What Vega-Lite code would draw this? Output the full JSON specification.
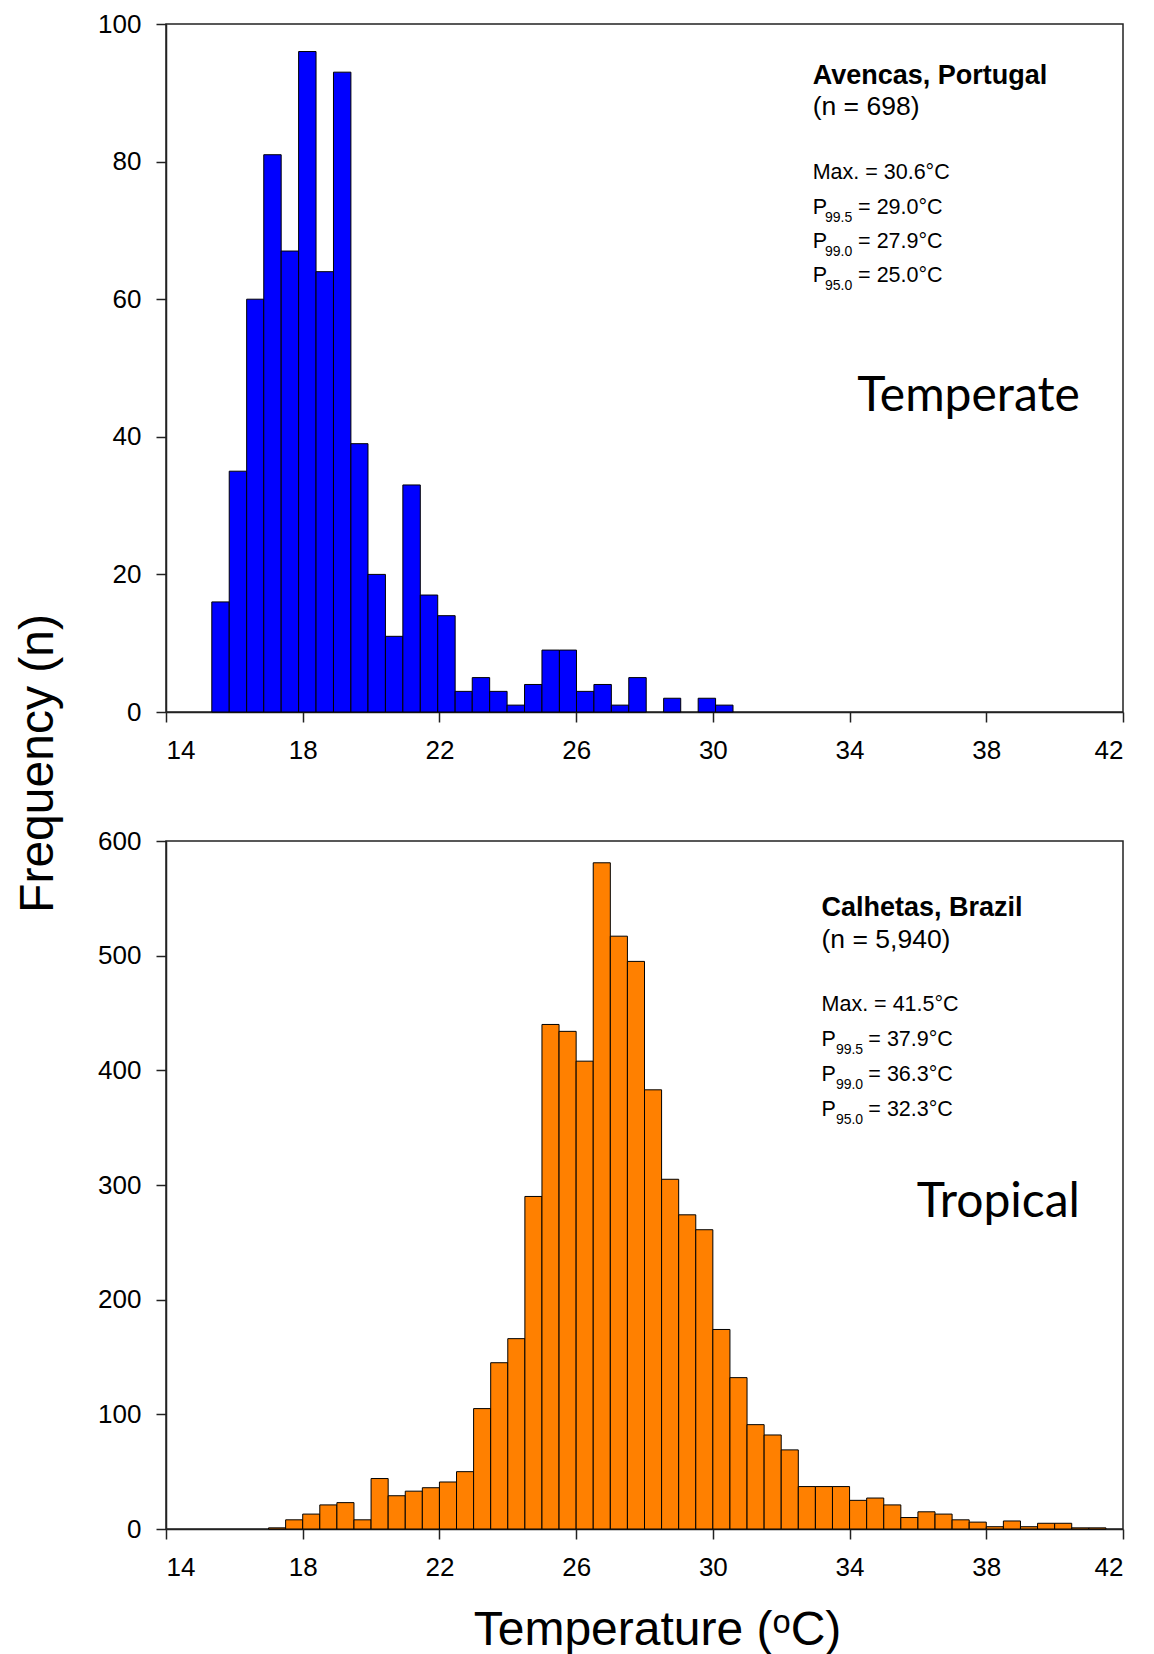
{
  "$schema": "https://vega.github.io/schema/vega-lite/v6.json",
  "background": "white",
  "padding": {"left": 13, "top": 10, "right": 5, "bottom": 0},
  "config": {
    "view": {"stroke": "#222222", "strokeWidth": 1.5},
    "axis": {
      "grid": false,
      "domainColor": "#222222",
      "domainWidth": 1.5,
      "tickColor": "#222222",
      "tickWidth": 1.5,
      "tickSize": 10,
      "labelFont": "Liberation Sans",
      "labelFontSize": 26,
      "labelColor": "black",
      "titleFont": "Liberation Sans",
      "titleFontSize": 48,
      "titleFontWeight": "normal",
      "titleColor": "black"
    },
    "text": {"font": "Liberation Sans", "color": "black", "baseline": "alphabetic", "align": "left"}
  },
  "datasets": {
    "avencas": [
      {"x0": 15.34, "x1": 15.85, "n": 16},
      {"x0": 15.85, "x1": 16.36, "n": 35},
      {"x0": 16.36, "x1": 16.86, "n": 60},
      {"x0": 16.86, "x1": 17.37, "n": 81},
      {"x0": 17.37, "x1": 17.88, "n": 67},
      {"x0": 17.88, "x1": 18.39, "n": 96},
      {"x0": 18.39, "x1": 18.90, "n": 64},
      {"x0": 18.90, "x1": 19.41, "n": 93},
      {"x0": 19.41, "x1": 19.91, "n": 39},
      {"x0": 19.91, "x1": 20.42, "n": 20},
      {"x0": 20.42, "x1": 20.93, "n": 11},
      {"x0": 20.93, "x1": 21.44, "n": 33},
      {"x0": 21.44, "x1": 21.95, "n": 17},
      {"x0": 21.95, "x1": 22.46, "n": 14},
      {"x0": 22.46, "x1": 22.96, "n": 3},
      {"x0": 22.96, "x1": 23.47, "n": 5},
      {"x0": 23.47, "x1": 23.98, "n": 3},
      {"x0": 23.98, "x1": 24.49, "n": 1},
      {"x0": 24.49, "x1": 25.00, "n": 4},
      {"x0": 25.00, "x1": 25.51, "n": 9},
      {"x0": 25.51, "x1": 26.01, "n": 9},
      {"x0": 26.01, "x1": 26.52, "n": 3},
      {"x0": 26.52, "x1": 27.03, "n": 4},
      {"x0": 27.03, "x1": 27.54, "n": 1},
      {"x0": 27.54, "x1": 28.05, "n": 5},
      {"x0": 28.56, "x1": 29.06, "n": 2},
      {"x0": 29.57, "x1": 30.08, "n": 2},
      {"x0": 30.08, "x1": 30.59, "n": 1}
    ],
    "calhetas": [
      {"x0": 17.0, "x1": 17.5, "n": 1},
      {"x0": 17.5, "x1": 18.0, "n": 8},
      {"x0": 18.0, "x1": 18.5, "n": 13},
      {"x0": 18.5, "x1": 19.0, "n": 21},
      {"x0": 19.0, "x1": 19.5, "n": 23},
      {"x0": 19.5, "x1": 20.0, "n": 8},
      {"x0": 20.0, "x1": 20.5, "n": 44},
      {"x0": 20.5, "x1": 21.0, "n": 29},
      {"x0": 21.0, "x1": 21.5, "n": 33},
      {"x0": 21.5, "x1": 22.0, "n": 36},
      {"x0": 22.0, "x1": 22.5, "n": 41},
      {"x0": 22.5, "x1": 23.0, "n": 50},
      {"x0": 23.0, "x1": 23.5, "n": 105},
      {"x0": 23.5, "x1": 24.0, "n": 145},
      {"x0": 24.0, "x1": 24.5, "n": 166},
      {"x0": 24.5, "x1": 25.0, "n": 290},
      {"x0": 25.0, "x1": 25.5, "n": 440},
      {"x0": 25.5, "x1": 26.0, "n": 434},
      {"x0": 26.0, "x1": 26.5, "n": 408},
      {"x0": 26.5, "x1": 27.0, "n": 581},
      {"x0": 27.0, "x1": 27.5, "n": 517},
      {"x0": 27.5, "x1": 28.0, "n": 495},
      {"x0": 28.0, "x1": 28.5, "n": 383},
      {"x0": 28.5, "x1": 29.0, "n": 305},
      {"x0": 29.0, "x1": 29.5, "n": 274},
      {"x0": 29.5, "x1": 30.0, "n": 261},
      {"x0": 30.0, "x1": 30.5, "n": 174},
      {"x0": 30.5, "x1": 31.0, "n": 132},
      {"x0": 31.0, "x1": 31.5, "n": 91},
      {"x0": 31.5, "x1": 32.0, "n": 82},
      {"x0": 32.0, "x1": 32.5, "n": 69},
      {"x0": 32.5, "x1": 33.0, "n": 37},
      {"x0": 33.0, "x1": 33.5, "n": 37},
      {"x0": 33.5, "x1": 34.0, "n": 37},
      {"x0": 34.0, "x1": 34.5, "n": 25},
      {"x0": 34.5, "x1": 35.0, "n": 27},
      {"x0": 35.0, "x1": 35.5, "n": 21},
      {"x0": 35.5, "x1": 36.0, "n": 10},
      {"x0": 36.0, "x1": 36.5, "n": 15},
      {"x0": 36.5, "x1": 37.0, "n": 13},
      {"x0": 37.0, "x1": 37.5, "n": 8},
      {"x0": 37.5, "x1": 38.0, "n": 6},
      {"x0": 38.0, "x1": 38.5, "n": 2},
      {"x0": 38.5, "x1": 39.0, "n": 7},
      {"x0": 39.0, "x1": 39.5, "n": 2},
      {"x0": 39.5, "x1": 40.0, "n": 5},
      {"x0": 40.0, "x1": 40.5, "n": 5},
      {"x0": 40.5, "x1": 41.0, "n": 1},
      {"x0": 41.0, "x1": 41.5, "n": 1}
    ]
  },
  "bounds": "flush",
  "spacing": 129,
  "vconcat": [
    {
      "width": 957,
      "height": 688,
      "layer": [
        {
          "data": {"name": "avencas"},
          "mark": {"type": "rect", "color": "#0000FF", "stroke": "black", "strokeWidth": 1},
          "encoding": {
            "x": {
              "field": "x0", "type": "quantitative",
              "scale": {"domain": [14, 42], "nice": false, "zero": false},
              "axis": {"values": [14, 18, 22, 26, 30, 34, 38, 42], "title": null, "labelPadding": 15}
            },
            "x2": {"field": "x1"},
            "y": {
              "field": "n", "type": "quantitative",
              "scale": {"domain": [0, 100], "nice": false},
              "axis": {
                "values": [0, 20, 40, 60, 80, 100],
                "labelPadding": 15,
                "title": "Frequency (n)",
                "titleAngle": 270,
                "titleAlign": "center",
                "titleBaseline": "alphabetic",
                "titleX": -114,
                "titleY": 739
              }
            },
            "y2": {"datum": 0}
          }
        },
        {
          "data": {"values": [{}]},
          "mark": {"type": "text", "text": "Avencas, Portugal", "fontSize": 27, "fontWeight": "bold"},
          "encoding": {"x": {"datum": 32.92}, "y": {"datum": 91.32}}
        },
        {
          "data": {"values": [{}]},
          "mark": {"type": "text", "text": "(n = 698)", "fontSize": 26.5},
          "encoding": {"x": {"datum": 32.92}, "y": {"datum": 86.8}}
        },
        {
          "data": {"values": [{}]},
          "mark": {"type": "text", "text": ["Max. = 30.6°C", "P", "P", "P"], "fontSize": 21.5, "lineHeight": 34.3},
          "encoding": {"x": {"datum": 32.92}, "y": {"datum": 77.43}}
        },
        {
          "data": {"values": [{}]},
          "mark": {"type": "text", "text": ["99.5", "99.0", "95.0"], "fontSize": 14, "lineHeight": 34.3},
          "encoding": {"x": {"datum": 33.28}, "y": {"datum": 71.24}}
        },
        {
          "data": {"values": [{}]},
          "mark": {"type": "text", "text": ["= 29.0°C", "= 27.9°C", "= 25.0°C"], "fontSize": 21.5, "lineHeight": 34.3},
          "encoding": {"x": {"datum": 34.25}, "y": {"datum": 72.44}}
        },
        {
          "data": {"values": [{}]},
          "mark": {"type": "text", "text": "Temperate", "font": "Lato", "fontSize": 48, "align": "right"},
          "encoding": {"x": {"datum": 40.74}, "y": {"datum": 43.7}}
        }
      ]
    },
    {
      "width": 957,
      "height": 688,
      "layer": [
        {
          "data": {"name": "calhetas"},
          "mark": {"type": "rect", "color": "#FF8000", "stroke": "black", "strokeWidth": 1},
          "encoding": {
            "x": {
              "field": "x0", "type": "quantitative",
              "scale": {"domain": [14, 42], "nice": false, "zero": false},
              "axis": {
                "values": [14, 18, 22, 26, 30, 34, 38, 42],
                "labelPadding": 15,
                "title": "Temperature (ᵒC)",
                "titleBaseline": "alphabetic",
                "titleX": 491,
                "titleY": 115
              }
            },
            "x2": {"field": "x1"},
            "y": {
              "field": "n", "type": "quantitative",
              "scale": {"domain": [0, 600], "nice": false},
              "axis": {"values": [0, 100, 200, 300, 400, 500, 600], "labelPadding": 15, "title": null}
            },
            "y2": {"datum": 0}
          }
        },
        {
          "data": {"values": [{}]},
          "mark": {"type": "text", "text": "Calhetas, Brazil", "fontSize": 27, "fontWeight": "bold"},
          "encoding": {"x": {"datum": 33.18}, "y": {"datum": 534.6}}
        },
        {
          "data": {"values": [{}]},
          "mark": {"type": "text", "text": "(n = 5,940)", "fontSize": 26.5},
          "encoding": {"x": {"datum": 33.18}, "y": {"datum": 506.9}}
        },
        {
          "data": {"values": [{}]},
          "mark": {"type": "text", "text": ["Max. = 41.5°C", "P", "P", "P"], "fontSize": 21.5, "lineHeight": 35},
          "encoding": {"x": {"datum": 33.18}, "y": {"datum": 451.4}}
        },
        {
          "data": {"values": [{}]},
          "mark": {"type": "text", "text": ["99.5", "99.0", "95.0"], "fontSize": 14, "lineHeight": 35},
          "encoding": {"x": {"datum": 33.6}, "y": {"datum": 414.2}}
        },
        {
          "data": {"values": [{}]},
          "mark": {"type": "text", "text": ["= 37.9°C", "= 36.3°C", "= 32.3°C"], "fontSize": 21.5, "lineHeight": 35},
          "encoding": {"x": {"datum": 34.55}, "y": {"datum": 420.9}}
        },
        {
          "data": {"values": [{}]},
          "mark": {"type": "text", "text": "Tropical", "font": "Lato", "fontSize": 48, "align": "right"},
          "encoding": {"x": {"datum": 40.74}, "y": {"datum": 272}}
        }
      ]
    }
  ]
}
